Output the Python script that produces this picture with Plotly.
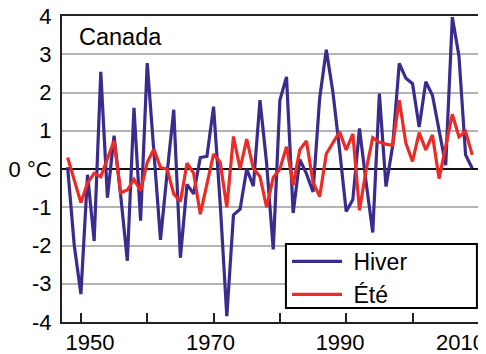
import plotly.graph_objects as go

years = list(range(1948, 2010))

hiver = [
    0.05, -2.0, -3.27, -0.15, -1.88, 2.54, -0.75, 0.87, -0.7, -2.4,
    1.6, -1.35, 2.77, 0.5, -1.85, -0.1, 1.55, -2.32, -0.4, -0.65,
    0.3, 0.33, 1.63, -0.9, -3.85, -1.2, -1.05, 0.0, -0.45, 1.8,
    0.15, -2.1, 1.8, 2.41, -1.15, 0.25, -0.12, -0.6, 1.85, 3.12,
    2.0, 0.5, -1.11, -0.8, 1.06, -0.35, -1.66, 1.97, -0.46, 0.6,
    2.76, 2.37, 2.23, 1.1, 2.28, 1.93, 1.0, 0.1, 3.97, 2.95,
    0.37, 0.02,
]

ete = [
    0.3, -0.3, -0.88, -0.37, -0.11, -0.2, 0.25, 0.74, -0.62, -0.55,
    -0.27, -0.57, 0.17, 0.52, 0.04, 0.0, -0.65, -0.85, 0.15, -0.11,
    -1.18, -0.37, 0.39, 0.17, -1.0, 0.85, 0.0, 0.78, 0.02, -0.2,
    -1.0, -0.22, 0.0, 0.58, -0.42, 0.5, 0.73, -0.35, -0.72, 0.4,
    0.7, 0.97, 0.5, 0.92, -1.08, -0.03, 0.82, 0.7, 0.65, 0.62,
    1.8, 0.67, 0.2, 0.95, 0.5, 0.89, -0.25, 0.55, 1.43, 0.84,
    0.98, 0.37,
]

y_ticks = [4, 3, 2, 1, 0, -1, -2, -3, -4]
y_labels = ["4", "3", "2", "1", "0 °C", "-1", "-2", "-3", "-4"]
x_ticks = [1950, 1960, 1970, 1980, 1990, 2000, 2010]
NB = "\u00a0"
x_labels = [NB * 3 + "1950", "", "1970" + NB, "", "1990" + NB * 2, "", "2010" + NB * 6]

BLUE = "#3b2b8c"
RED = "#ec2b25"
FONT = "Liberation Sans, Arial, sans-serif"

fig = go.Figure()
fig.add_trace(go.Scatter(x=years, y=hiver, name=NB + "Hiver", mode="lines",
                         line=dict(color=BLUE, width=3.2)))
fig.add_trace(go.Scatter(x=years, y=ete, name=NB + "Été", mode="lines",
                         line=dict(color=RED, width=3.2)))

fig.add_annotation(text="Canada", xref="paper", yref="paper", x=0.036, y=0.93,
                   xanchor="left", yanchor="middle", showarrow=False,
                   font=dict(size=23.5, color="black", family=FONT))

# legend frame
fig.add_shape(type="rect", xref="paper", yref="paper",
              x0=0.537, x1=0.995, y0=0.046, y1=0.255,
              fillcolor="white", line=dict(color="black", width=2),
              layer="above")

# page body has an 8px margin: figure is shrunk/shifted to compensate
fig.update_layout(
    width=478, height=346,
    margin=dict(l=54, r=7, t=8, b=32),
    paper_bgcolor="white", plot_bgcolor="white",
    font=dict(family=FONT, size=22, color="black"),
    showlegend=True,
    legend=dict(x=0.5396, y=0.268, xanchor="left", yanchor="top",
                bgcolor="rgba(0,0,0,0)", borderwidth=0,
                font=dict(size=23, family=FONT), itemwidth=50),
    xaxis=dict(range=[1947.15, 2010.02], tickmode="array", tickvals=x_ticks,
               ticktext=x_labels, ticks="inside", ticklen=9, tickwidth=1.5,
               tickcolor="#222", showgrid=False, zeroline=False,
               showline=True, linecolor="#222", linewidth=2, mirror=True,
               automargin=False, ticklabelstandoff=0,
               tickfont=dict(size=22), ticklabeloverflow="allow"),
    yaxis=dict(range=[-4, 4], tickmode="array", tickvals=y_ticks,
               ticktext=y_labels, ticks="", showgrid=True,
               gridcolor="#b4b4b4", gridwidth=1.5, zeroline=True,
               zerolinecolor="#111", zerolinewidth=1.5,
               showline=True, linecolor="#222", linewidth=2, mirror=True,
               automargin=False, ticklabelstandoff=4,
               tickfont=dict(size=22), ticklabeloverflow="allow"),
)

fig.write_html("out.html")
